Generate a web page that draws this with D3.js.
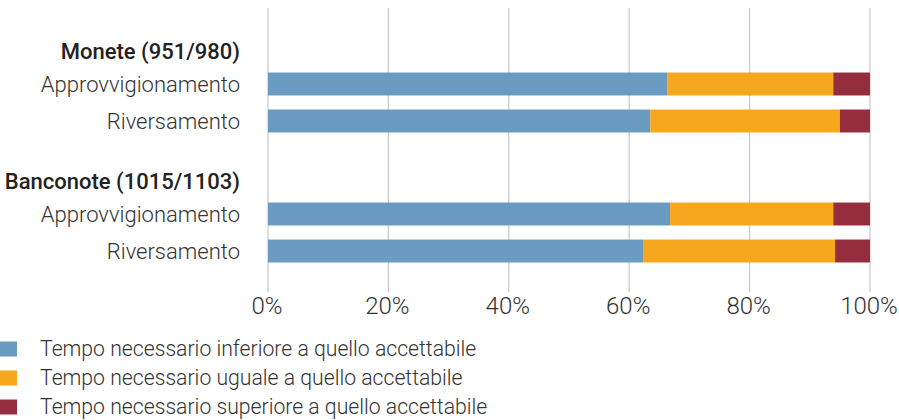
<!DOCTYPE html>
<html>
<head>
<meta charset="utf-8">
<script src="https://cdn.jsdelivr.net/npm/d3@7"></script>
<style>
  body { margin: 0; background: #fff; }
  text { font-family: Roboto, "Liberation Sans", sans-serif; }
</style>
</head>
<body>
<div id="chart"></div>
<script>
// chart size
var width = 899,
    height = 420;

// data
var groups = ["Monete (951/980)", "Banconote (1015/1103)"];
var rows = ["Approvvigionamento", "Riversamento"];
var inferiore = [66.3, 63.5, 66.8, 62.3];
var uguale = [27.6, 31.5, 27.1, 31.9];
var superiore = [6.1, 5.0, 6.1, 5.8];
var seriesNames = ["Tempo necessario inferiore a quello accettabile",
                   "Tempo necessario uguale a quello accettabile",
                   "Tempo necessario superiore a quello accettabile"];
var ticks = [0, 20, 40, 60, 80, 100];

var colors = ["#6a9bc0", "#f6a71e", "#962d3e"];

// build table
var data = [];
groups.forEach(function(g, gi) {
  rows.forEach(function(r, ri) {
    var i = gi * rows.length + ri;
    data.push({group: g, row: r, values: [inferiore[i], uguale[i], superiore[i]]});
  });
});

var svg = d3.select("#chart").append("svg")
  .attr("width", width)
  .attr("height", height);

var x = d3.scaleLinear().domain([0, 100]).range([268, 870]);

// outer scale for groups, inner scale for rows
var yGroup = d3.scaleBand().domain(groups).range([65.5, 325.5]);
var yRow = d3.scaleBand().domain(rows).range([0, 74])
  .paddingInner(0.38).paddingOuter(0.19);

// gridlines
svg.append("g").selectAll("line")
  .data(ticks)
  .enter().append("line")
  .attr("x1", function(d) { return x(d); })
  .attr("x2", function(d) { return x(d); })
  .attr("y1", 8)
  .attr("y2", 292)
  .attr("stroke", "#c8c8c8")
  .attr("stroke-width", 1.2);

// tick labels
svg.append("g").selectAll("text")
  .data(ticks)
  .enter().append("text")
  .attr("x", function(d) { return x(d) - 1; })
  .attr("y", 314)
  .attr("text-anchor", "middle")
  .style("font-size", "24px")
  .style("font-weight", 300)
  .style("fill", "#333")
  .text(function(d) { return d + "%"; });

// stacked bars
var rowG = svg.append("g").selectAll("g")
  .data(data)
  .enter().append("g")
  .attr("transform", function(d) { return "translate(0," + (yGroup(d.group) + yRow(d.row)) + ")"; });

rowG.selectAll("rect")
  .data(function(d) {
    var acc = 0;
    return d.values.map(function(v, k) {
      var s = acc; acc += v;
      return {x0: s, x1: acc, k: k};
    });
  })
  .enter().append("rect")
  .attr("x", function(d) { return x(d.x0); })
  .attr("width", function(d) { return x(d.x1) - x(d.x0); })
  .attr("height", yRow.bandwidth())
  .attr("fill", function(d) { return colors[d.k]; });

// row labels
rowG.append("text")
  .attr("x", 240)
  .attr("y", yRow.bandwidth() / 2)
  .attr("dy", "0.35em")
  .attr("text-anchor", "end")
  .style("font-size", "22px")
  .style("font-weight", 300)
  .style("fill", "#333")
  .text(function(d) { return d.row; });

// group headers
svg.append("g").selectAll("text")
  .data(groups)
  .enter().append("text")
  .attr("x", 240)
  .attr("y", function(d) { return yGroup(d) - 14; })
  .attr("dy", "0.35em")
  .attr("text-anchor", "end")
  .style("font-size", "22px")
  .style("font-weight", 500)
  .style("fill", "#222")
  .text(function(d) { return d; });

// legend (last row nudged up so descenders stay inside)
var legend = svg.append("g").selectAll("g")
  .data(seriesNames)
  .enter().append("g")
  .attr("transform", function(d, i) { return "translate(0," + (349 + i * 29) + ")"; });

legend.append("rect")
  .attr("x", 0)
  .attr("y", -7.5)
  .attr("width", 17)
  .attr("height", 15)
  .attr("fill", function(d, i) { return colors[i]; });

legend.append("text")
  .attr("x", 40)
  .attr("dy", "0.35em")
  .style("font-size", "21.2px")
  .style("font-weight", 300)
  .style("fill", "#333")
  .text(function(d) { return d; });
</script>
</body>
</html>
